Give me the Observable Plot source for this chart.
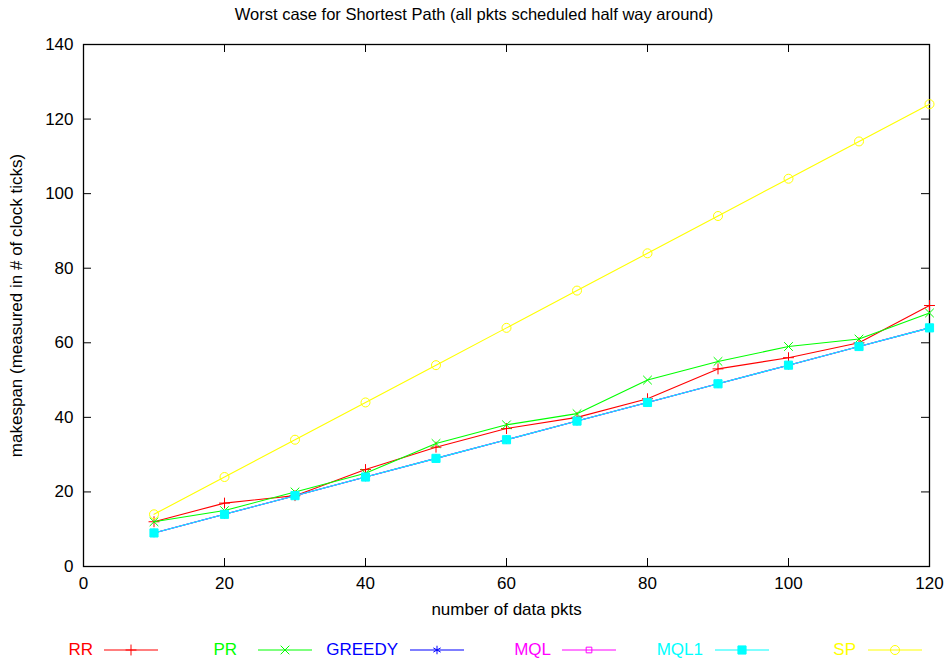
<!DOCTYPE html>
<html>
<head>
<meta charset="utf-8">
<script src="https://cdn.jsdelivr.net/npm/d3@7"></script>
<script src="https://cdn.jsdelivr.net/npm/@observablehq/plot@0.6"></script>
<style>
  html, body { margin: 0; padding: 0; background: #fff; }
  #wrap { position: relative; width: 948px; height: 665px; font-family: "Liberation Sans", Arial, sans-serif; }
  #title { position: absolute; left: 0; width: 948px; top: 5px; text-align: center; font-size: 16.5px; }
  .leg { position: absolute; top: 640px; height: 22px; }
  .leg span { position: absolute; font-size: 17px; line-height: 20px; white-space: nowrap; }
</style>
</head>
<body>
<div id="wrap">
  <div id="title">Worst case for Shortest Path (all pkts scheduled half way around)</div>
  <div id="chart"></div>
  <div id="legend"></div>
</div>
<script>
const xs = [10, 20, 30, 40, 50, 60, 70, 80, 90, 100, 110, 120];
const rr = [12, 17, 19, 26, 32, 37, 40, 45, 53, 56, 60, 70];
const pr = [12, 15, 20, 25, 33, 38, 41, 50, 55, 59, 61, 68];
const greedy = [9, 14, 19, 24, 29, 34, 39, 44, 49, 54, 59, 64];
const mql = [9, 14, 19, 24, 29, 34, 39, 44, 49, 54, 59, 64];
const mql1 = [9, 14, 19, 24, 29, 34, 39, 44, 49, 54, 59, 64];
const sp = [14, 24, 34, 44, 54, 64, 74, 84, 94, 104, 114, 124];
const xTicks = [0, 20, 40, 60, 80, 100, 120];
const yTicks = [0, 20, 40, 60, 80, 100, 120, 140];

const seriesNames = ["RR", "PR", "GREEDY", "MQL", "MQL1", "SP"];
const seriesValues = [rr, pr, greedy, mql, mql1, sp];
const colors = ["#ff0000", "#00ff00", "#0000ff", "#ff00ff", "#00ffff", "#ffff00"];
const symbols = ["plus", "times", "asterisk", "square", "square", "circle"];
const fills = ["none", "none", "none", "none", "#00ffff", "none"];
const radii = [3.6, 4, 4, 3.2, 4.6, 4.5];

const rows = seriesNames.flatMap((s, i) => xs.map((x, j) => ({series: s, x, y: seriesValues[i][j]})));

const W = 948, H = 628;
const mL = 83, mR = 19, mT = 44, mB = H - 566;
const fw = W - mL - mR, fh = H - mT - mB;
const tk = 8;

const marks = [
  Plot.frame({stroke: "#000", strokeWidth: 1.3}),
  Plot.ruleX(xTicks, {x: d => d, insetTop: fh - tk, stroke: "#000"}),
  Plot.ruleX(xTicks, {x: d => d, insetBottom: fh - tk, stroke: "#000"}),
  Plot.ruleY(yTicks, {y: d => d, insetRight: fw - tk, stroke: "#000"}),
  Plot.ruleY(yTicks, {y: d => d, insetLeft: fw - tk, stroke: "#000"}),
  Plot.axisX({ticks: xTicks, tickSize: 0, tickPadding: 10, fontSize: 17, label: "number of data pkts", labelAnchor: "center", labelArrow: "none", labelOffset: 48}),
  Plot.axisY({ticks: yTicks, tickSize: 0, tickPadding: 10, fontSize: 17, label: "makespan (measured in # of clock ticks)", labelAnchor: "center", labelArrow: "none", labelOffset: 74})
];
seriesNames.forEach((s, i) => {
  const data = rows.filter(d => d.series === s);
  marks.push(Plot.line(data, {x: "x", y: "y", stroke: colors[i], strokeWidth: 1.1}));
  marks.push(Plot.dot(data, {x: "x", y: "y", symbol: () => symbols[i], stroke: colors[i], fill: fills[i], r: radii[i], strokeWidth: 1}));
});

const chart = Plot.plot({
  width: W, height: H,
  marginLeft: mL, marginRight: mR, marginTop: mT, marginBottom: mB,
  style: {fontFamily: "Liberation Sans, Arial, sans-serif", fontSize: "17px", color: "#000", background: "#fff"},
  x: {domain: [0, 120]},
  y: {domain: [0, 140]},
  symbol: {type: "identity"},
  marks
});
document.getElementById("chart").appendChild(chart);

// legend
const textRight = [93, 237, 398, 551, 703, 856];
const lineStart = [104, 258, 410, 562, 715, 868];
const lineLen = 54;
const leg = document.getElementById("legend");
seriesNames.forEach((s, i) => {
  const t = document.createElement("div");
  t.className = "leg";
  t.style.left = "0px";
  t.innerHTML = `<span style="right:${948 - textRight[i]}px;color:${colors[i]}">${s}</span>`;
  t.style.width = "948px";
  leg.appendChild(t);
  const sym = d3.symbol().type({plus: d3.symbolPlus, times: d3.symbolTimes, asterisk: d3.symbolAsterisk, square: d3.symbolSquare, circle: d3.symbolCircle}[symbols[i]]).size(Math.PI * radii[i] * radii[i])();
  const svg = document.createElementNS("http://www.w3.org/2000/svg", "svg");
  svg.setAttribute("width", lineLen + 2);
  svg.setAttribute("height", 20);
  svg.style.position = "absolute";
  svg.style.left = (lineStart[i] - 1) + "px";
  svg.style.top = "640px";
  svg.innerHTML = `<line x1="1" x2="${lineLen + 1}" y1="10" y2="10" stroke="${colors[i]}" stroke-width="1.1"/><path d="${sym}" transform="translate(${lineLen / 2 + 1},10)" stroke="${colors[i]}" fill="${fills[i]}"/>`;
  leg.appendChild(svg);
});
</script>
</body>
</html>
